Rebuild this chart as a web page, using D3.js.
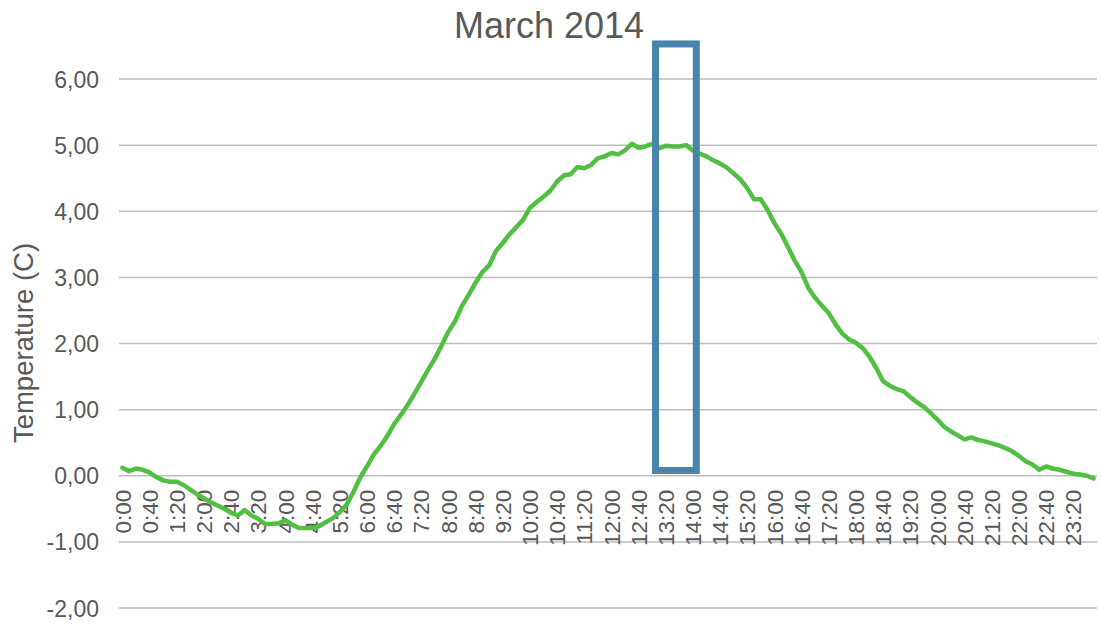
<!DOCTYPE html>
<html>
<head>
<meta charset="utf-8">
<script src="https://cdn.jsdelivr.net/npm/d3@7"></script>
<style>
  html, body { margin: 0; padding: 0; background: #ffffff; }
  svg { display: block; }
  text { font-family: "Liberation Sans", Arial, sans-serif; fill: #595959; }
</style>
</head>
<body>
<svg id="chart" width="1101" height="625"></svg>
<script>
// ---- Data ----
const title = "March 2014";
const yAxisTitle = "Temperature (C)";

// 10-minute categories, 0:00 .. 23:50
const times = d3.range(144).map(i => `${Math.floor(i / 6)}:${String((i % 6) * 10).padStart(2, "0")}`);

// Temperature readings (C), one per category
const temperature = [
  0.12, 0.07, 0.11, 0.09, 0.05, -0.02, -0.07, -0.09, -0.09, -0.14,
  -0.21, -0.28, -0.34, -0.40, -0.45, -0.50, -0.56, -0.60, -0.52, -0.60,
  -0.65, -0.73, -0.73, -0.72, -0.67, -0.74, -0.79, -0.79, -0.79, -0.76,
  -0.70, -0.64, -0.55, -0.44, -0.25, -0.03, 0.14, 0.32, 0.45, 0.60,
  0.78, 0.92, 1.07, 1.24, 1.42, 1.60, 1.77, 1.97, 2.18, 2.34,
  2.57, 2.74, 2.92, 3.08, 3.18, 3.40, 3.52, 3.65, 3.76, 3.87,
  4.05, 4.14, 4.22, 4.31, 4.45, 4.54, 4.56, 4.67, 4.65, 4.70,
  4.80, 4.83, 4.88, 4.86, 4.92, 5.02, 4.96, 4.98, 5.02, 4.95,
  4.99, 4.98, 4.98, 5.00, 4.92, 4.87, 4.83, 4.77, 4.72, 4.66,
  4.57, 4.48, 4.35, 4.18, 4.18, 4.02, 3.82, 3.66, 3.46, 3.25,
  3.08, 2.84, 2.69, 2.57, 2.46, 2.29, 2.15, 2.06, 2.01, 1.93,
  1.80, 1.63, 1.43, 1.36, 1.31, 1.28, 1.19, 1.11, 1.04, 0.95,
  0.85, 0.74, 0.67, 0.61, 0.55, 0.58, 0.54, 0.52, 0.49, 0.46,
  0.42, 0.37, 0.30, 0.22, 0.17, 0.09, 0.14, 0.11, 0.09, 0.06,
  0.03, 0.02, 0.00, -0.04
];

// Tick labels shown on the category axis (every 40 minutes)
const xTickLabels = times.filter((t, i) => i % 4 === 0);
// Value axis ticks
const yTicks = [-2, -1, 0, 1, 2, 3, 4, 5, 6];

// Highlighted period (annotation box)
const highlightFrom = "13:10";
const highlightTo = "14:00";
const highlightTop = 6.53;
const highlightBottom = 0.08;

// ---- Layout ----
const svg = d3.select("#chart");
const plot = { left: 119, right: 1097, top: 79, bottom: 608 };

const x = d3.scaleBand().domain(times).range([plot.left, plot.right]).padding(0);
const y = d3.scaleLinear().domain([-2, 6]).range([plot.bottom, plot.top]);
const fmt = v => d3.format(".2f")(v).replace(".", ",").replace("\u2212", "-");

// Gridlines
svg.append("g")
  .selectAll("line")
  .data(yTicks)
  .join("line")
  .attr("x1", plot.left).attr("x2", plot.right)
  .attr("y1", d => y(d)).attr("y2", d => y(d))
  .attr("stroke", "#bdbdbd")
  .attr("stroke-width", 1.5);

// Y axis labels
const yAxis = d3.axisLeft(y).tickValues(yTicks).tickFormat(fmt).tickSize(0).tickPadding(0);
const gy = svg.append("g").attr("transform", `translate(${plot.left - 20},0)`).call(yAxis);
gy.select(".domain").remove();
gy.selectAll("text")
  .attr("font-size", 23)
  .attr("font-family", "'Liberation Sans', Arial, sans-serif")
  .attr("fill", "#595959")
  .attr("dy", "0.35em");

// X axis labels (at the zero line, rotated)
const xAxis = d3.axisBottom(x).tickValues(xTickLabels).tickSize(0).tickPadding(0);
const gx = svg.append("g").attr("transform", `translate(0,${y(0)})`).call(xAxis);
gx.select(".domain").remove();
gx.selectAll("text")
  .attr("font-size", 22.5)
  .attr("font-family", "'Liberation Sans', Arial, sans-serif")
  .attr("fill", "#595959")
  .attr("text-anchor", "end")
  .attr("transform", "translate(0,14) rotate(-90)")
  .attr("x", 0)
  .attr("y", 0)
  .attr("dy", "0.36em");

// Line
const line = d3.line()
  .x((d, i) => x(times[i]) + x.bandwidth() / 2)
  .y(d => y(d));

svg.append("path")
  .datum(temperature)
  .attr("d", line)
  .attr("fill", "none")
  .attr("stroke", "#51bf42")
  .attr("stroke-width", 4.5)
  .attr("stroke-linejoin", "round")
  .attr("stroke-linecap", "round");

// Highlight box
svg.append("rect")
  .attr("x", x(highlightFrom))
  .attr("y", y(highlightTop))
  .attr("width", x(highlightTo) + x.bandwidth() - x(highlightFrom))
  .attr("height", y(highlightBottom) - y(highlightTop))
  .attr("fill", "none")
  .attr("stroke", "#4783ab")
  .attr("stroke-width", 7);

// Title
svg.append("text")
  .attr("x", 549)
  .attr("y", 38)
  .attr("text-anchor", "middle")
  .attr("font-size", 36)
  .text(title);

// Y axis title
svg.append("text")
  .attr("transform", `translate(33,343) rotate(-90)`)
  .attr("text-anchor", "middle")
  .attr("font-size", 27.5)
  .text(yAxisTitle);
</script>
</body>
</html>
